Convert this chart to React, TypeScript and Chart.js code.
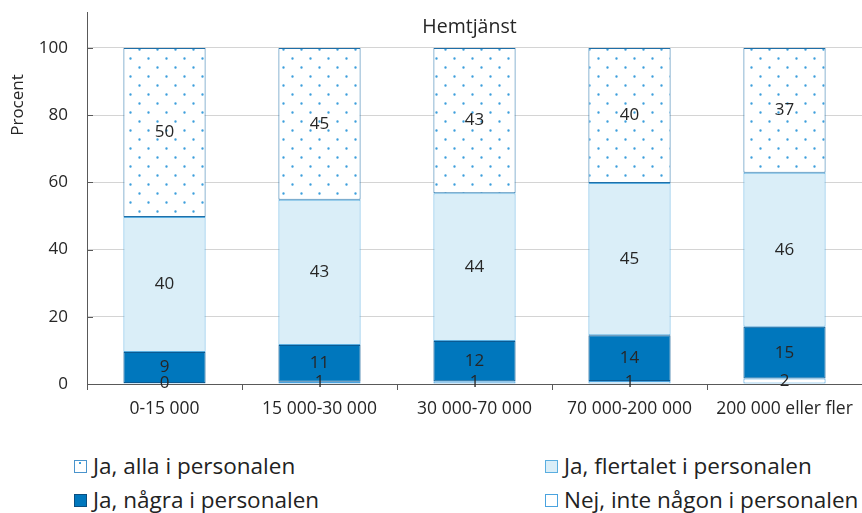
import React, { useEffect, useRef } from "react";
import { Chart, registerables } from "chart.js";

Chart.register(...registerables);

const categories = ["0-15 000", "15 000-30 000", "30 000-70 000", "70 000-200 000", "200 000 eller fler"];
const nejValues = [0.3, 0.7, 0.8, 0.9, 1.6];
const nagraValues = [9.2, 10.9, 12.0, 13.6, 15.4];
const flertaletValues = [40.2, 43.2, 44.0, 45.3, 45.9];
const allaValues = [50.3, 45.2, 43.2, 40.2, 37.1];
const yTicks = [0, 20, 40, 60, 80, 100];
const chartTitle = "Hemtjänst";
const yTitle = "Procent";

const FONT = "'Open Sans', sans-serif";
const AXIS = "#595959";
const DARK = "#0077bd";
const LIGHT = "#daeef8";

function makePattern(): CanvasPattern | string {
  const c = document.createElement("canvas");
  c.width = 18;
  c.height = 18;
  const ctx = c.getContext("2d");
  if (!ctx) return "#fff";
  ctx.fillStyle = "#ffffff";
  ctx.fillRect(0, 0, 18, 18);
  ctx.fillStyle = "#3d9fdc";
  ctx.beginPath();
  ctx.arc(4.5, 4.5, 1.2, 0, Math.PI * 2);
  ctx.arc(13.5, 13.5, 1.2, 0, Math.PI * 2);
  ctx.fill();
  return ctx.createPattern(c, "repeat") || "#fff";
}

const labelPlugin = {
  id: "segLabels",
  afterDatasetsDraw(chart: any) {
    const { ctx } = chart;
    ctx.save();
    ctx.font = `17px ${FONT}`;
    ctx.fillStyle = "#262626";
    ctx.textAlign = "center";
    ctx.textBaseline = "middle";
    chart.data.datasets.forEach((ds: any, i: number) => {
      const meta = chart.getDatasetMeta(i);
      meta.data.forEach((el: any, j: number) => {
        const v = ds.data[j];
        const y = (el.y + el.base) / 2;
        ctx.fillText(String(Math.round(v)), el.x, y);
      });
    });
    const a = chart.chartArea;
    // title inside plot area
    ctx.font = `19.5px ${FONT}`;
    ctx.fillStyle = "#262626";
    ctx.fillText(chartTitle, (a.left + a.right) / 2 - 5, a.top + 15);
    // y axis title
    ctx.save();
    ctx.translate(18.5, a.top + 93);
    ctx.rotate(-Math.PI / 2);
    ctx.font = `17px ${FONT}`;
    ctx.fillText(yTitle, 0, 0);
    ctx.restore();
    // inward y tick marks
    const ys = chart.scales.y;
    ctx.strokeStyle = AXIS;
    ctx.lineWidth = 1;
    yTicks.forEach((t) => {
      const py = Math.round(ys.getPixelForValue(t)) + 0.5;
      ctx.beginPath();
      ctx.moveTo(a.left, py);
      ctx.lineTo(a.left + 6, py);
      ctx.stroke();
    });
    ctx.restore();
  },
};

function LegendItem(props: { x: number; y: number; label: string; kind: string }) {
  const { x, y, label, kind } = props;
  let box: React.CSSProperties = {
    position: "absolute",
    left: 0,
    top: 0,
    width: 13,
    height: 13,
    boxSizing: "border-box",
  };
  if (kind === "alla") box = { ...box, background: "#fff", border: "1.5px solid #4a94cc" };
  if (kind === "flertalet") box = { ...box, background: LIGHT, border: "1.5px solid #5aaee0" };
  if (kind === "nagra") box = { ...box, background: DARK, border: "1.5px solid #0b4f80" };
  if (kind === "nej") box = { ...box, background: "#fff", border: "1.5px solid #4aa3df" };
  return (
    <div style={{ position: "absolute", left: x, top: y, height: 20, whiteSpace: "nowrap" }}>
      <div style={box}>
        {kind === "alla" ? (
          <div style={{ position: "absolute", left: 4, top: 1, width: 2, height: 2, background: "#3d9fdc" }} />
        ) : null}
      </div>
      <span
        style={{
          position: "absolute",
          left: 19,
          top: -8,
          fontFamily: FONT,
          fontSize: 22.5,
          lineHeight: "28px",
          color: "#222",
        }}
      >
        {label}
      </span>
    </div>
  );
}

export default function App() {
  const ref = useRef<HTMLCanvasElement | null>(null);
  useEffect(() => {
    if (!ref.current) return;
    const pattern = makePattern();
    const common = { barPercentage: 0.53, categoryPercentage: 1, borderWidth: 1, borderSkipped: false as const };
    const chart = new Chart(ref.current, {
      type: "bar",
      data: {
        labels: categories,
        datasets: [
          { label: "Nej, inte någon i personalen", data: nejValues, backgroundColor: "#ffffff", borderColor: "#4aa3df", ...common },
          { label: "Ja, några i personalen", data: nagraValues, backgroundColor: DARK, borderColor: "#0b5a92", ...common },
          { label: "Ja, flertalet i personalen", data: flertaletValues, backgroundColor: LIGHT, borderColor: "#5aaee0", ...common },
          { label: "Ja, alla i personalen", data: allaValues, backgroundColor: pattern as any, borderColor: "#1f6fa8", ...common },
        ],
      },
      options: {
        responsive: false,
        animation: false,
        layout: { padding: { top: 12, right: 0, left: 0, bottom: 0 } },
        plugins: { legend: { display: false }, tooltip: { enabled: false }, title: { display: false } },
        scales: {
          x: {
            stacked: true,
            grid: { offset: true, drawOnChartArea: false, drawTicks: true, tickLength: 6, color: AXIS },
            border: { color: AXIS },
            ticks: { font: { family: FONT, size: 17.5 }, color: "#262626", padding: 9, maxRotation: 0 },
            afterFit: (s: any) => {
              s.height = 56;
              s.paddingLeft = 0;
              s.paddingRight = 0;
            },
          },
          y: {
            stacked: true,
            min: 0,
            max: 110.7,
            afterBuildTicks: (s: any) => {
              s.ticks = yTicks.map((v) => ({ value: v }));
            },
            grid: { color: "#d4d4d4", drawTicks: false },
            border: { color: AXIS },
            ticks: { font: { family: FONT, size: 17 }, color: "#262626", padding: 19 },
            afterFit: (s: any) => {
              s.width = 87;
              s.paddingTop = 0;
              s.paddingBottom = 0;
            },
          },
        },
      },
      plugins: [labelPlugin],
    });
    return () => chart.destroy();
  }, []);

  return (
    <div style={{ position: "absolute", left: 0, top: 0, width: 862, height: 513, background: "#fff" }}>
      <canvas ref={ref} width={862} height={440} style={{ display: "block" }} />
      <LegendItem x={74} y={460} label="Ja, alla i personalen" kind="alla" />
      <LegendItem x={545} y={460} label="Ja, flertalet i personalen" kind="flertalet" />
      <LegendItem x={74} y={494} label="Ja, några i personalen" kind="nagra" />
      <LegendItem x={545} y={494} label="Nej, inte någon i personalen" kind="nej" />
    </div>
  );
}
